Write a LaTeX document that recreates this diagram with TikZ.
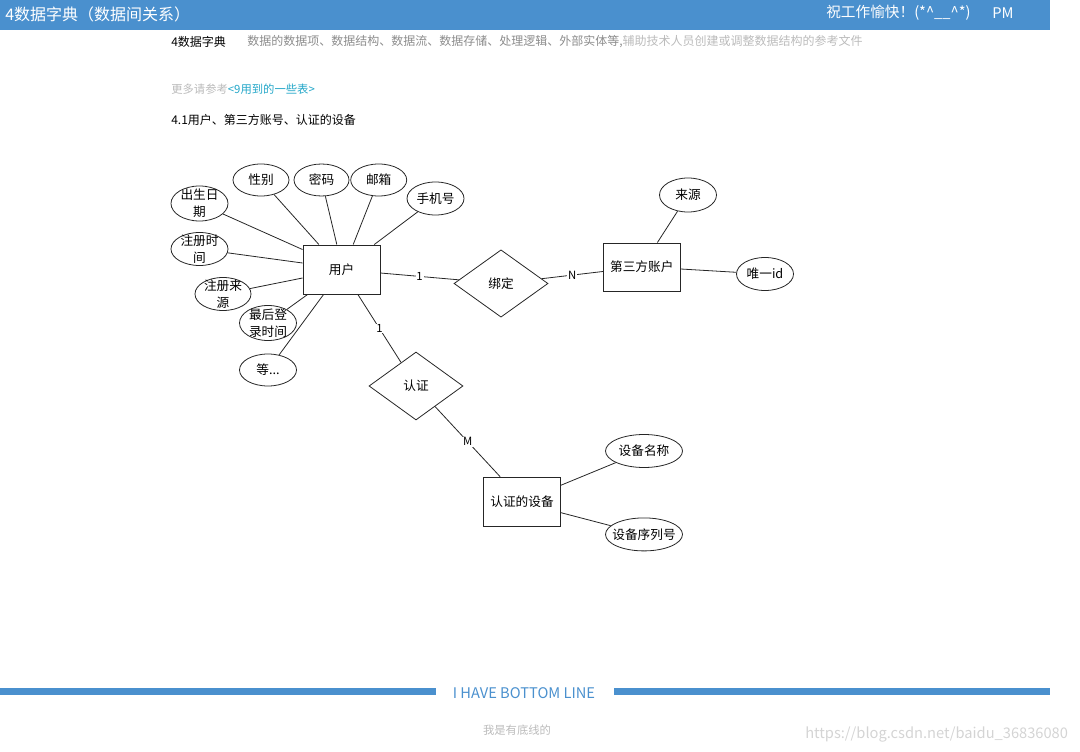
\documentclass[tikz,border=0pt]{standalone}
\usepackage{fontspec}
\setmainfont{Noto Sans CJK SC}
\usetikzlibrary{shapes.geometric,calc}
\definecolor{hdrblue}{HTML}{4A90CE}
\definecolor{greyA}{HTML}{8C8C8C}
\definecolor{greyB}{HTML}{BBBBBB}
\definecolor{linkc}{HTML}{22A6C8}
\definecolor{wmark}{HTML}{D4D4D4}
\begin{document}
\begin{tikzpicture}[x=0.75pt,y=-0.75pt,
  ent/.style={draw=black!85, line width=0.7pt, rectangle, minimum width=57.75pt, minimum height=36.75pt, inner sep=0pt, font=\fontsize{9.5}{12}\selectfont},
  attr/.style={draw=black!85, line width=0.6pt, ellipse, inner sep=0pt, minimum width=42.75pt, minimum height=24.75pt},
  lbl/.style={font=\fontsize{9.5}{12.5}\selectfont, align=center, inner sep=0pt},
  rel/.style={draw=black!85, line width=0.6pt, diamond, minimum width=70.5pt, minimum height=50.5pt, inner sep=0pt, font=\fontsize{9.5}{12}\selectfont},
  conn/.style={draw=black!85, line width=0.6pt},
  card/.style={fill=white, inner sep=0.6pt, font=\fontsize{8.5}{10}\selectfont},
  txt/.style={anchor=west, inner sep=0pt, font=\fontsize{9}{11}\selectfont}]
\useasboundingbox (0,0) rectangle (1080,752);
% header
\fill[hdrblue] (0,0) rectangle (1050,30);
\node[txt, text=white, font=\fontsize{12}{13}\selectfont] (title) at (5,14) {4数据字典（数据间关系）};
\node[txt, text=white, font=\fontsize{11}{13}\selectfont] (greet) at (826,13) {祝工作愉快！(*\textasciicircum\_\_\textasciicircum*)};
\node[txt, text=white, font=\fontsize{11}{13}\selectfont] (pm) at (992,13) {PM};
% intro texts
\node[txt] (sub) at (171,42) {4数据字典};
\node[txt] (desc) at (247,42) {{\color{greyA}数据的数据项、数据结构、数据流、数据存储、处理逻辑、外部实体等,}{\color{greyB}辅助技术人员创建或调整数据结构的参考文件}};
\node[txt, font=\fontsize{8.5}{11}\selectfont] (more) at (171,89) {{\color{greyB}更多请参考}{\color{linkc}<9用到的一些表>}};
\node[txt] (sec) at (171,120) {4.1用户、第三方账号、认证的设备};
% entities
\node[ent] (user) at (341.5,269.5) {用户};
\node[ent, minimum height=36pt] (acct) at (641.8,267) {第三方账户};
\node[ent] (dev) at (522,501.7) {认证的设备};
% relations
\node[rel] (bind) at (501,283.5) {绑定};
\node[rel, minimum height=51pt] (auth) at (416,386) {认证};
% attributes of user
\node[attr, minimum width=42pt, minimum height=24pt, label={[lbl]center:性别}] (sex) at (261,180) {};
\node[attr, minimum width=41.25pt, minimum height=24pt, label={[lbl]center:密码}] (pwd) at (321.5,180) {};
\node[attr, minimum width=42pt, minimum height=24pt, label={[lbl]center:邮箱}] (mail) at (378.7,180) {};
\node[attr, label={[lbl]center:手机号}] (phone) at (435.5,198.5) {};
\node[attr, minimum height=26.25pt, label={[lbl]center:出生日\\期}] (birth) at (199.5,203.5) {};
\node[attr, label={[lbl]center:注册时\\间}] (regt) at (199.5,249) {};
\node[attr, minimum width=42pt, label={[lbl]center:注册来\\源}] (regs) at (223,294) {};
\node[attr, minimum height=26.25pt, label={[lbl]center:最后登\\录时间}] (last) at (268,323) {};
\node[attr, minimum height=24pt, label={[lbl]center:等...}] (etc) at (268,370) {};
% attributes of third-party account
\node[attr, minimum height=25.5pt, label={[lbl]center:来源}] (src) at (688,195) {};
\node[attr, label={[lbl]center:唯一id}] (uid) at (765,274) {};
% attributes of device
\node[attr, minimum width=57.75pt, label={[lbl]center:设备名称}] (dname) at (644,451) {};
\node[attr, minimum width=57.75pt, label={[lbl]center:设备序列号}] (dsn) at (644,534.4) {};
% user attribute connectors
\draw[conn] (sex) -- ($(user.north west)!0.21!(user.north east)$);
\draw[conn] (pwd) -- ($(user.north west)!0.44!(user.north east)$);
\draw[conn] (mail) -- ($(user.north west)!0.65!(user.north east)$);
\draw[conn] (phone) -- ($(user.north west)!0.92!(user.north east)$);
\draw[conn] (birth) -- ($(user.north west)!0.1!(user.south west)$);
\draw[conn] (regt) -- ($(user.north west)!0.37!(user.south west)$);
\draw[conn] (regs) -- ($(user.north west)!0.67!(user.south west)$);
\draw[conn] (last) -- ($(user.south west)!0.065!(user.south east)$);
\draw[conn] (etc) -- ($(user.south west)!0.27!(user.south east)$);
% other attribute connectors
\draw[conn] (src) -- ($(acct.north west)!0.7!(acct.north east)$);
\draw[conn] (uid) -- ($(acct.east)+(0,2)$);
\draw[conn] (dname) -- ($(dev.north east)!0.17!(dev.south east)$);
\draw[conn] (dsn) -- ($(dev.north east)!0.72!(dev.south east)$);
% relationships
\draw[conn] ($(user.east)+(0,3.5)$) -- node[card] (c1) {1} (bind);
\draw[conn] (bind) -- node[card] (cn) {N} ($(acct.west)+(0,4.5)$);
\draw[conn] ($(user.south west)!0.71!(user.south east)$) -- node[card] (c2) {1} (auth);
\draw[conn] (auth) -- node[card] (cm) {M} ($(dev.north west)!0.22!(dev.north east)$);
% footer
\fill[hdrblue] (0,688) rectangle (436,695);
\fill[hdrblue] (614,688) rectangle (1050,695);
\node[inner sep=0pt, text=hdrblue, font=\fontsize{11}{12}\selectfont] (bottom) at (524,693) {I HAVE BOTTOM LINE};
\node[inner sep=0pt, text=greyB, font=\fontsize{8.5}{10}\selectfont] (end) at (517,730) {我是有底线的};
\node[txt, text=wmark, font=\fontsize{11}{12}\selectfont] (wm) at (805,734) {https://blog.csdn.net/baidu\_36836080};
\end{tikzpicture}
\end{document}
